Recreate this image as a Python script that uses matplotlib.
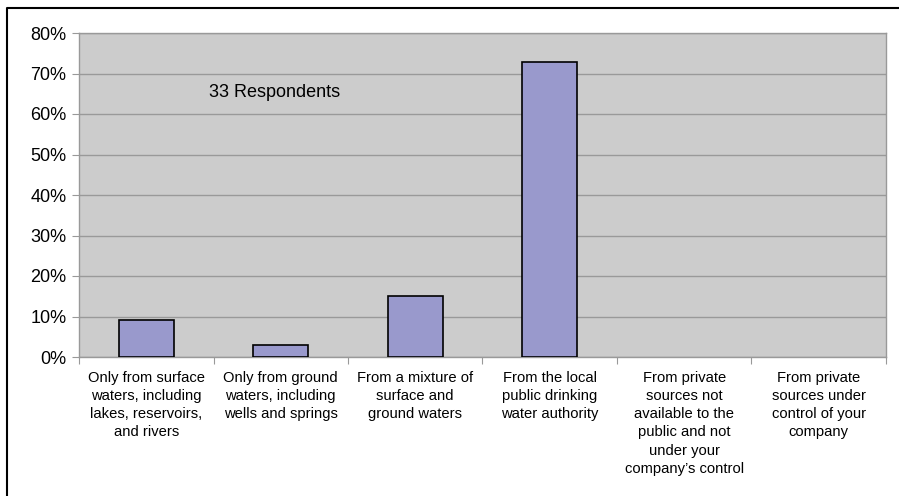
import matplotlib
matplotlib.use("Agg")
import matplotlib.pyplot as plt
from matplotlib.lines import Line2D
from matplotlib.ticker import FuncFormatter, MultipleLocator

plt.rcParams['font.family'] = ['Liberation Sans', 'DejaVu Sans']

categories = [
    "Only from surface\nwaters, including\nlakes, reservoirs,\nand rivers",
    "Only from ground\nwaters, including\nwells and springs",
    "From a mixture of\nsurface and\nground waters",
    "From the local\npublic drinking\nwater authority",
    "From private\nsources not\navailable to the\npublic and not\nunder your\ncompany\u2019s control",
    "From private\nsources under\ncontrol of your\ncompany",
]
values = [3/33*100, 1/33*100, 5/33*100, 24/33*100, 0, 0]
note = "33 Respondents"

fig = plt.figure(figsize=(8.99, 4.96), dpi=100)
ax = fig.add_axes([79/899, 1-357/496, (886-79)/899, (357-33)/496])

# outer frame (only top and left edges are visible in the crop)
fig.lines.append(Line2D([7/899, 7/899, 1], [0, 1-8/496, 1-8/496], transform=fig.transFigure,
                        color='black', linewidth=1.5))

ax.set_facecolor('#cccccc')
ax.set_axisbelow(True)
ax.yaxis.grid(True, color='#999999', linewidth=1)

x = range(len(values))
edges = ['black' if v > 0 else 'none' for v in values]
ax.bar(x, values, width=0.41, color='#9999cc', edgecolor=edges, linewidth=1.2, zorder=3)

ax.set_xlim(-0.5, len(values) - 0.5)
ax.set_ylim(0, 80)
ax.yaxis.set_major_locator(MultipleLocator(10))
ax.yaxis.set_major_formatter(FuncFormatter(lambda v, p: f"{int(v)}%"))

ax.set_xticks([i + 0.5 for i in range(-1, len(values))], minor=False)
ax.set_xticklabels([])
ax.set_xticks(list(x), minor=True)
ax.set_xticklabels(categories, minor=True, fontsize=10.6, linespacing=1.38, va='top')
ax.tick_params(axis='x', which='minor', length=0, pad=10)
ax.tick_params(axis='x', which='major', length=5, color='#999999')
ax.tick_params(axis='y', length=5, color='#999999', labelsize=13, pad=4)

for s in ['left', 'bottom', 'top', 'right']:
    ax.spines[s].set_color('#999999')
    ax.spines[s].set_linewidth(1)

ax.text(0.47, 65.4, note, fontsize=13, va='center', ha='left')

fig.savefig("out.png", dpi=100)
